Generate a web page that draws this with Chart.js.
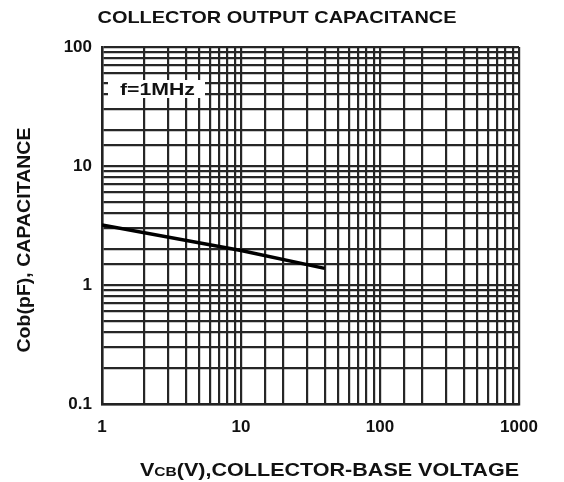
<!DOCTYPE html>
<html>
<head>
<meta charset="utf-8">
<script src="https://cdn.jsdelivr.net/npm/chart.js@4.4.1/dist/chart.umd.min.js"></script>
<style>
  html, body { margin: 0; padding: 0; background: #fff; }
  #wrap { width: 564px; height: 482px; }
</style>
</head>
<body>
<div id="wrap"><canvas id="cob" width="564" height="482"></canvas></div>
<script>
// collector-base voltage (V) and output capacitance (pF)
const vcb = [1, 10, 40];
const cob = [3.2, 1.95, 1.38];
// axis ranges and the labels that are shown
const xRange = [1, 1000];
const yRange = [0.1, 100];
const xTickLabels = ['1', '10', '100', '1000'];
const yTickLabels = ['0.1', '1', '10', '100'];

const FONT = '"Liberation Sans", Arial, Helvetica, sans-serif';

function isDecade(v) {
    const l = Math.log10(v);
    return Math.abs(l - Math.round(l)) < 1e-6;
}

function decadeLabel(v, list) {
    if (!isDecade(v)) return '';
    const s = String(Number(v.toPrecision(6)));
    return list.includes(s) ? s : '';
}

// draws bold text stretched to a given width
function fitText(ctx, str, x, y, size, width) {
    ctx.font = 'bold ' + size + 'px ' + FONT;
    const w = ctx.measureText(str).width;
    ctx.save();
    ctx.translate(x, y);
    ctx.scale(width / w, 1);
    ctx.fillText(str, 0, 0);
    ctx.restore();
}

const labels = {
    id: 'labels',
    afterDraw(chart) {
        const ctx = chart.ctx;
        ctx.save();
        ctx.fillStyle = '#111';
        ctx.textBaseline = 'alphabetic';
        ctx.textAlign = 'center';

        // title
        fitText(ctx, 'COLLECTOR OUTPUT CAPACITANCE', 277, 23, 17, 359);

        // y title
        ctx.save();
        ctx.translate(30, 240);
        ctx.rotate(-Math.PI / 2);
        fitText(ctx, 'Cob(pF), CAPACITANCE', 0, 0, 18, 225);
        ctx.restore();

        // f=1MHz note
        ctx.fillStyle = '#fff';
        ctx.fillRect(108, 80, 97, 18);
        ctx.fillStyle = '#111';
        fitText(ctx, 'f=1MHz', 157.5, 95, 16, 75);

        // x title, with small "CB"
        const parts = [['V', 18], ['CB', 13], ['(V),COLLECTOR-BASE VOLTAGE', 18]];
        let total = 0;
        parts.forEach(p => {
            ctx.font = 'bold ' + p[1] + 'px ' + FONT;
            total += ctx.measureText(p[0]).width;
        });
        const k = 379 / total;
        ctx.textAlign = 'left';
        let x = 140;
        parts.forEach(p => {
            ctx.font = 'bold ' + p[1] + 'px ' + FONT;
            const w = ctx.measureText(p[0]).width;
            ctx.save();
            ctx.translate(x, 476);
            ctx.scale(k, 1);
            ctx.fillText(p[0], 0, 0);
            ctx.restore();
            x += w * k;
        });
        ctx.restore();
    }
};

new Chart('cob', {
    type: 'line',
    data: {
        datasets: [{
            data: vcb.map((v, i) => ({x: v, y: cob[i]})),
            borderColor: '#000',
            borderWidth: 3.5,
            pointRadius: 0,
            fill: false,
            tension: 0
        }]
    },
    options: {
        responsive: false,
        animation: false,
        layout: { padding: { left: 0, top: 47, right: 45, bottom: 0 } },
        plugins: {
            legend: { display: false },
            title: { display: false },
            tooltip: { enabled: false }
        },
        scales: {
            x: {
                type: 'logarithmic',
                min: xRange[0],
                max: xRange[1],
                afterFit: s => { s.height = 78; },
                border: { display: true, color: '#222', width: 2.5 },
                grid: { color: '#262626', lineWidth: 2.2, drawTicks: false },
                ticks: {
                    autoSkip: false,
                    maxRotation: 0,
                    padding: 13,
                    color: '#111',
                    font: { family: FONT, size: 17, weight: 'bold' },
                    callback: v => decadeLabel(v, xTickLabels)
                }
            },
            y: {
                type: 'logarithmic',
                min: yRange[0],
                max: yRange[1],
                afterFit: s => { s.width = 102; },
                border: { display: true, color: '#222', width: 2.5 },
                grid: { color: '#262626', lineWidth: 2.2, drawTicks: false },
                ticks: {
                    autoSkip: false,
                    padding: 10,
                    color: '#111',
                    font: { family: FONT, size: 17, weight: 'bold' },
                    callback: v => decadeLabel(v, yTickLabels)
                }
            }
        }
    },
    plugins: [labels]
});
</script>
</body>
</html>
